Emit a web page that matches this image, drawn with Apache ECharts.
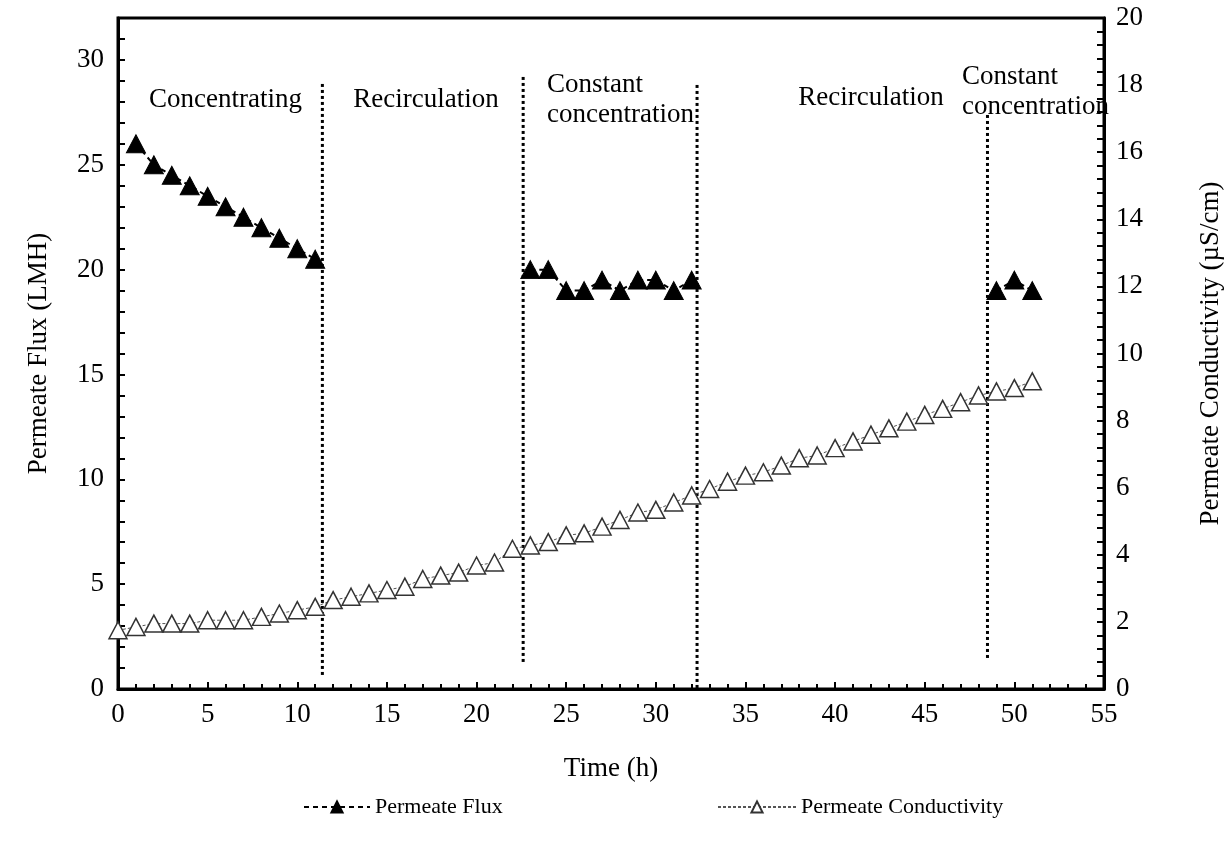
<!DOCTYPE html>
<html><head><meta charset="utf-8">
<script src="https://cdn.jsdelivr.net/npm/echarts@6/dist/echarts.min.js"></script>
<style>html,body{margin:0;padding:0;background:#fff}#chart{width:1226px;height:843px}</style>
</head><body><div id="chart"></div>
<script>
// ---- data ----
const fluxTime  = [1,2,3,4,5,6,7,8,9,10,11, 23,24,25,26,27,28,29,30,31,32, 49,50,51];
const fluxValue = [26,25,24.5,24,23.5,23,22.5,22,21.5,21,20.5, 20,20,19,19,19.5,19,19.5,19.5,19,19.5, 19,19.5,19];

const condTime = [0,1,2,3,4,5,6,7,8,9,10,11,12,13,14,15,16,17,18,19,20,21,22,23,24,25,
                  26,27,28,29,30,31,32,33,34,35,36,37,38,39,40,41,42,43,44,45,46,47,48,49,50,51];
const condValue = [1.75,1.85,1.95,1.95,1.95,2.05,2.05,2.05,2.15,2.25,2.35,2.45,2.65,2.75,2.85,2.95,
                   3.05,3.28,3.38,3.47,3.68,3.77,4.18,4.28,4.38,4.58,4.64,4.84,5.04,5.26,5.34,5.56,
                   5.77,5.96,6.18,6.36,6.46,6.66,6.88,6.96,7.18,7.38,7.58,7.77,7.97,8.17,8.35,8.55,
                   8.75,8.87,8.97,9.17];

const dividerTime   = [11.4, 22.6, 32.3, 48.5];
const dividerTop    = [28.9, 29.2, 28.9, 27.5];
const dividerBottom = [0.67, 1.29, 0.05, 1.48];

const phaseText  = ['Concentrating','Recirculation','Constant\nconcentration','Recirculation','Constant\nconcentration'];
const phaseTime  = [6.0, 17.18, 23.93, 42.0, 47.08];
const phaseLevel = [28.1, 28.1, 28.1, 28.2, 28.47];
const phaseAlign = ['center','center','left','center','left'];

const seriesNames = ['Permeate Flux', 'Permeate Conductivity'];

// ---- build ----
const FONT = 'Liberation Serif';
const fluxData = [];
for (let i = 0; i < fluxTime.length; i++) {
  if (i > 0 && fluxTime[i] - fluxTime[i-1] > 1) fluxData.push(['-', '-']);
  fluxData.push([fluxTime[i], fluxValue[i]]);
}
const condData = condTime.map((t, i) => [t, condValue[i]]);

const dividerSeries = dividerTime.map((t, i) => ({
  type: 'line', silent: true, symbol: 'none', xAxisIndex: 0, yAxisIndex: 0, z: 1,
  data: [[t, dividerBottom[i]], [t, dividerTop[i]]],
  lineStyle: { color: '#000', width: 3, type: [3, 3], cap: 'butt' }
}));

const labelSeries = {
  type: 'scatter', silent: true, symbolSize: 0, xAxisIndex: 0, yAxisIndex: 0, z: 5,
  itemStyle: { opacity: 1, color: '#000' },
  data: phaseText.map((txt, i) => ({
    value: [phaseTime[i], phaseLevel[i]], name: txt,
    label: { align: phaseAlign[i] }
  })),
  label: {
    show: true, position: 'inside', formatter: p => p.name,
    fontFamily: FONT, fontSize: 27, color: '#000', lineHeight: 30, verticalAlign: 'middle',
    textBorderWidth: 0, textShadowBlur: 0, opacity: 1
  }
};

const axisTextStyle = { fontFamily: FONT, fontSize: 27, color: '#000' };

const option = {
  animation: false,
  backgroundColor: '#fff',
  grid: { left: 118, right: 122, top: 18, bottom: 154, show: true, borderColor: '#000', borderWidth: 3,
          outerBoundsMode: 'none', containLabel: false },
  legend: [
    { data: [seriesNames[0]], left: 298, top: 791, itemWidth: 66, itemHeight: 14, itemGap: 0,
      textStyle: { fontFamily: FONT, fontSize: 22, color: '#000' } },
    { data: [seriesNames[1]], left: 712, top: 791, itemWidth: 78, itemHeight: 14, itemGap: 0,
      textStyle: { fontFamily: FONT, fontSize: 22, color: '#000' } }
  ],
  xAxis: {
    type: 'value', min: 0, max: 55, interval: 5,
    name: 'Time (h)', nameLocation: 'middle', nameGap: 66,
    nameTextStyle: axisTextStyle,
    axisLine: { show: true, lineStyle: { color: '#000', width: 3 } },
    axisTick: { show: true, inside: true, length: 7, lineStyle: { color: '#000', width: 2 } },
    minorTick: { show: true, splitNumber: 5, length: 5, lineStyle: { color: '#000', width: 2 } },
    splitLine: { show: false },
    axisLabel: { ...axisTextStyle, margin: 12 }
  },
  yAxis: [
    {
      type: 'value', min: 0, max: 32, interval: 1, position: 'left',
      name: 'Permeate Flux (LMH)', nameLocation: 'middle', nameGap: 66, nameRotate: 90,
      nameTextStyle: axisTextStyle,
      axisLine: { show: true, lineStyle: { color: '#000', width: 3 } },
      axisTick: { show: true, inside: true, length: 7, lineStyle: { color: '#000', width: 2 } },
      splitLine: { show: false },
      axisLabel: { ...axisTextStyle, margin: 14, formatter: v => (v % 5 === 0 ? String(v) : '') }
    },
    {
      type: 'value', min: 0, max: 20, interval: 2, position: 'right',
      name: 'Permeate Conductivity (µS/cm)', nameLocation: 'middle', nameGap: 93, nameRotate: 90,
      nameTextStyle: axisTextStyle,
      axisLine: { show: true, lineStyle: { color: '#000', width: 3 } },
      axisTick: { show: true, inside: true, length: 7, lineStyle: { color: '#000', width: 2 } },
      minorTick: { show: true, splitNumber: 5, length: 7, lineStyle: { color: '#000', width: 2 } },
      splitLine: { show: false },
      axisLabel: { ...axisTextStyle, margin: 12 }
    }
  ],
  series: [
    ...dividerSeries,
    {
      name: seriesNames[0], type: 'line', xAxisIndex: 0, yAxisIndex: 0, z: 4,
      data: fluxData, connectNulls: false,
      symbol: 'triangle', symbolSize: [19, 18],
      itemStyle: { color: '#000', borderColor: '#000', borderWidth: 1 },
      lineStyle: { color: '#000', width: 2, type: [5, 4] }
    },
    {
      name: seriesNames[1], type: 'line', xAxisIndex: 0, yAxisIndex: 1, z: 3,
      data: condData,
      symbol: 'triangle', symbolSize: [18, 17],
      itemStyle: { color: '#fff', borderColor: '#333', borderWidth: 1.5 },
      lineStyle: { color: '#555', width: 1, type: [3, 2] }
    },
    labelSeries
  ]
};

const chart = echarts.init(document.getElementById('chart'), null, { renderer: 'canvas' });
chart.setOption(option);
</script>
</body></html>
